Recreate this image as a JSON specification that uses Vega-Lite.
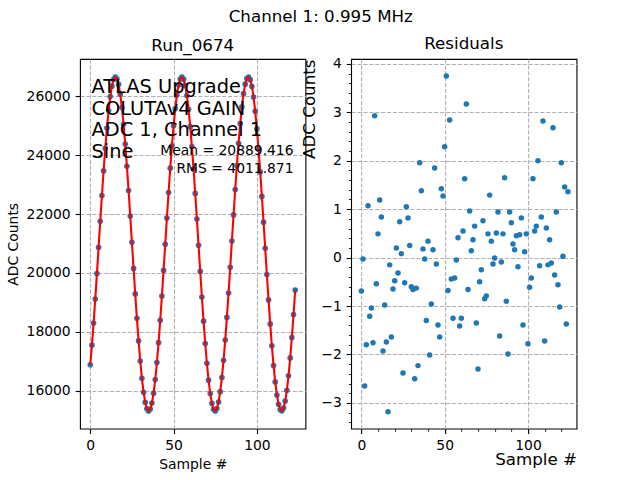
{
  "$schema": "https://vega.github.io/schema/vega-lite/v6.json",
  "padding": {"left": 5, "top": 8, "right": 5, "bottom": 5},
  "title": {"text": "Channel 1: 0.995 MHz", "anchor": "middle", "baseline": "alphabetic", "offset": -3.7, "dx": 29.5},
  "datasets": {
    "samples": [
      {"sample": 0, "adc": 16881, "fit": 16882}, {"sample": 1, "adc": 17548, "fit": 17548},
      {"sample": 2, "adc": 18297, "fit": 18300}, {"sample": 3, "adc": 19115, "fit": 19117},
      {"sample": 4, "adc": 19981, "fit": 19980}, {"sample": 5, "adc": 20868, "fit": 20869},
      {"sample": 6, "adc": 21759, "fit": 21760}, {"sample": 7, "adc": 22631, "fit": 22633},
      {"sample": 8, "adc": 23468, "fit": 23465}, {"sample": 9, "adc": 24233, "fit": 24234},
      {"sample": 10, "adc": 24923, "fit": 24923}, {"sample": 11, "adc": 25517, "fit": 25516},
      {"sample": 12, "adc": 25997, "fit": 25996}, {"sample": 13, "adc": 26349, "fit": 26351},
      {"sample": 14, "adc": 26573, "fit": 26574}, {"sample": 15, "adc": 26656, "fit": 26658},
      {"sample": 16, "adc": 26599, "fit": 26602}, {"sample": 17, "adc": 26407, "fit": 26407},
      {"sample": 18, "adc": 26075, "fit": 26077}, {"sample": 19, "adc": 25620, "fit": 25621},
      {"sample": 20, "adc": 25052, "fit": 25052}, {"sample": 21, "adc": 24379, "fit": 24379},
      {"sample": 22, "adc": 23623, "fit": 23623}, {"sample": 23, "adc": 22804, "fit": 22803},
      {"sample": 24, "adc": 21937, "fit": 21937}, {"sample": 25, "adc": 21045, "fit": 21047},
      {"sample": 26, "adc": 20156, "fit": 20157}, {"sample": 27, "adc": 19288, "fit": 19287},
      {"sample": 28, "adc": 18459, "fit": 18458}, {"sample": 29, "adc": 17692, "fit": 17692},
      {"sample": 30, "adc": 17007, "fit": 17008}, {"sample": 31, "adc": 16421, "fit": 16422},
      {"sample": 32, "adc": 15946, "fit": 15949}, {"sample": 33, "adc": 15601, "fit": 15602},
      {"sample": 34, "adc": 15385, "fit": 15387}, {"sample": 35, "adc": 15313, "fit": 15311},
      {"sample": 36, "adc": 15377, "fit": 15376}, {"sample": 37, "adc": 15579, "fit": 15579},
      {"sample": 38, "adc": 15917, "fit": 15917}, {"sample": 39, "adc": 16380, "fit": 16381},
      {"sample": 40, "adc": 16958, "fit": 16958}, {"sample": 41, "adc": 17632, "fit": 17634},
      {"sample": 42, "adc": 18393, "fit": 18394}, {"sample": 43, "adc": 19218, "fit": 19218},
      {"sample": 44, "adc": 20088, "fit": 20086}, {"sample": 45, "adc": 20976, "fit": 20976},
      {"sample": 46, "adc": 21866, "fit": 21867}, {"sample": 47, "adc": 22733, "fit": 22735},
      {"sample": 48, "adc": 23561, "fit": 23560}, {"sample": 49, "adc": 24322, "fit": 24321},
      {"sample": 50, "adc": 25002, "fit": 25000}, {"sample": 51, "adc": 25583, "fit": 25579},
      {"sample": 52, "adc": 26044, "fit": 26045}, {"sample": 53, "adc": 26388, "fit": 26385},
      {"sample": 54, "adc": 26591, "fit": 26591}, {"sample": 55, "adc": 26658, "fit": 26659},
      {"sample": 56, "adc": 26586, "fit": 26586}, {"sample": 57, "adc": 26374, "fit": 26374},
      {"sample": 58, "adc": 26029, "fit": 26029}, {"sample": 59, "adc": 25557, "fit": 25558},
      {"sample": 60, "adc": 24973, "fit": 24974}, {"sample": 61, "adc": 24294, "fit": 24293},
      {"sample": 62, "adc": 23530, "fit": 23528}, {"sample": 63, "adc": 22704, "fit": 22701},
      {"sample": 64, "adc": 21831, "fit": 21832}, {"sample": 65, "adc": 20941, "fit": 20940},
      {"sample": 66, "adc": 20052, "fit": 20052}, {"sample": 67, "adc": 19185, "fit": 19185},
      {"sample": 68, "adc": 18363, "fit": 18362}, {"sample": 69, "adc": 17604, "fit": 17605},
      {"sample": 70, "adc": 16931, "fit": 16933}, {"sample": 71, "adc": 16358, "fit": 16359},
      {"sample": 72, "adc": 15902, "fit": 15902}, {"sample": 73, "adc": 15570, "fit": 15569},
      {"sample": 74, "adc": 15370, "fit": 15371}, {"sample": 75, "adc": 15311, "fit": 15312},
      {"sample": 76, "adc": 15393, "fit": 15393}, {"sample": 77, "adc": 15614, "fit": 15613},
      {"sample": 78, "adc": 15966, "fit": 15966}, {"sample": 79, "adc": 16444, "fit": 16444},
      {"sample": 80, "adc": 17032, "fit": 17032}, {"sample": 81, "adc": 17722, "fit": 17721},
      {"sample": 82, "adc": 18491, "fit": 18490}, {"sample": 83, "adc": 19318, "fit": 19320},
      {"sample": 84, "adc": 20191, "fit": 20191}, {"sample": 85, "adc": 21083, "fit": 21083},
      {"sample": 86, "adc": 21973, "fit": 21971}, {"sample": 87, "adc": 22835, "fit": 22836},
      {"sample": 88, "adc": 23653, "fit": 23655}, {"sample": 89, "adc": 24409, "fit": 24408},
      {"sample": 90, "adc": 25076, "fit": 25075}, {"sample": 91, "adc": 25642, "fit": 25642},
      {"sample": 92, "adc": 26093, "fit": 26093}, {"sample": 93, "adc": 26417, "fit": 26417},
      {"sample": 94, "adc": 26607, "fit": 26607}, {"sample": 95, "adc": 26658, "fit": 26658},
      {"sample": 96, "adc": 26569, "fit": 26568}, {"sample": 97, "adc": 26339, "fit": 26340},
      {"sample": 98, "adc": 25979, "fit": 25979}, {"sample": 99, "adc": 25493, "fit": 25493},
      {"sample": 100, "adc": 24896, "fit": 24898}, {"sample": 101, "adc": 24204, "fit": 24205},
      {"sample": 102, "adc": 23433, "fit": 23433}, {"sample": 103, "adc": 22601, "fit": 22599},
      {"sample": 104, "adc": 21726, "fit": 21725}, {"sample": 105, "adc": 20836, "fit": 20835},
      {"sample": 106, "adc": 19948, "fit": 19946}, {"sample": 107, "adc": 19084, "fit": 19084},
      {"sample": 108, "adc": 18269, "fit": 18268}, {"sample": 109, "adc": 17523, "fit": 17520},
      {"sample": 110, "adc": 16856, "fit": 16858}, {"sample": 111, "adc": 16299, "fit": 16298},
      {"sample": 112, "adc": 15855, "fit": 15855}, {"sample": 113, "adc": 15538, "fit": 15538},
      {"sample": 114, "adc": 15356, "fit": 15356}, {"sample": 115, "adc": 15317, "fit": 15314},
      {"sample": 116, "adc": 15412, "fit": 15412}, {"sample": 117, "adc": 15649, "fit": 15648},
      {"sample": 118, "adc": 16016, "fit": 16017}, {"sample": 119, "adc": 16509, "fit": 16510},
      {"sample": 120, "adc": 17114, "fit": 17112}, {"sample": 121, "adc": 17809, "fit": 17809},
      {"sample": 122, "adc": 18587, "fit": 18586}, {"sample": 123, "adc": 19421, "fit": 19422}
    ],
    "residuals": [
      {"sample": 0, "residual": -0.69}, {"sample": 1, "residual": -0.03}, {"sample": 2, "residual": -2.65},
      {"sample": 3, "residual": -1.80}, {"sample": 4, "residual": 1.07}, {"sample": 5, "residual": -1.21},
      {"sample": 6, "residual": -1.04}, {"sample": 7, "residual": -1.76}, {"sample": 8, "residual": 2.93},
      {"sample": 9, "residual": -0.54}, {"sample": 10, "residual": 0.49}, {"sample": 11, "residual": 1.19},
      {"sample": 12, "residual": 0.84}, {"sample": 13, "residual": -1.93}, {"sample": 14, "residual": -0.98},
      {"sample": 15, "residual": -1.74}, {"sample": 16, "residual": -3.18}, {"sample": 17, "residual": -0.15},
      {"sample": 18, "residual": -1.64}, {"sample": 19, "residual": -0.65}, {"sample": 20, "residual": -0.48},
      {"sample": 21, "residual": 0.20}, {"sample": 22, "residual": -0.32}, {"sample": 23, "residual": 0.74},
      {"sample": 24, "residual": 0.08}, {"sample": 25, "residual": -2.38}, {"sample": 26, "residual": -0.52},
      {"sample": 27, "residual": 1.05}, {"sample": 28, "residual": 0.82}, {"sample": 29, "residual": 0.25},
      {"sample": 30, "residual": -0.60}, {"sample": 31, "residual": -0.66}, {"sample": 32, "residual": -2.50},
      {"sample": 33, "residual": -0.63}, {"sample": 34, "residual": -2.23}, {"sample": 35, "residual": 1.96},
      {"sample": 36, "residual": 1.38}, {"sample": 37, "residual": 0.18}, {"sample": 38, "residual": -0.03},
      {"sample": 39, "residual": -1.30}, {"sample": 40, "residual": 0.34}, {"sample": 41, "residual": -2.01},
      {"sample": 42, "residual": -0.96}, {"sample": 43, "residual": 0.16}, {"sample": 44, "residual": 1.85},
      {"sample": 45, "residual": -0.13}, {"sample": 46, "residual": -1.39}, {"sample": 47, "residual": -1.64},
      {"sample": 48, "residual": 1.42}, {"sample": 49, "residual": 1.27}, {"sample": 50, "residual": 2.29},
      {"sample": 51, "residual": 3.75}, {"sample": 52, "residual": -0.68}, {"sample": 53, "residual": 2.84},
      {"sample": 54, "residual": -0.44}, {"sample": 55, "residual": -1.25}, {"sample": 56, "residual": -0.42},
      {"sample": 57, "residual": -0.05}, {"sample": 58, "residual": 0.41}, {"sample": 59, "residual": -1.41},
      {"sample": 60, "residual": -1.25}, {"sample": 61, "residual": 0.55}, {"sample": 62, "residual": 1.63},
      {"sample": 63, "residual": 3.17}, {"sample": 64, "residual": -0.66}, {"sample": 65, "residual": 0.96},
      {"sample": 66, "residual": 0.14}, {"sample": 67, "residual": 0.37}, {"sample": 68, "residual": 0.65},
      {"sample": 69, "residual": -1.35}, {"sample": 70, "residual": -2.30}, {"sample": 71, "residual": -0.50},
      {"sample": 72, "residual": -0.25}, {"sample": 73, "residual": 0.76}, {"sample": 74, "residual": -0.85},
      {"sample": 75, "residual": -0.79}, {"sample": 76, "residual": 0.49}, {"sample": 77, "residual": 1.29},
      {"sample": 78, "residual": 0.34}, {"sample": 79, "residual": -0.13}, {"sample": 80, "residual": -0.01},
      {"sample": 81, "residual": 0.51}, {"sample": 82, "residual": 0.94}, {"sample": 83, "residual": -1.62},
      {"sample": 84, "residual": -0.09}, {"sample": 85, "residual": 0.49}, {"sample": 86, "residual": 1.65},
      {"sample": 87, "residual": -0.90}, {"sample": 88, "residual": -1.99}, {"sample": 89, "residual": 0.94},
      {"sample": 90, "residual": 0.72}, {"sample": 91, "residual": 0.28}, {"sample": 92, "residual": 0.16},
      {"sample": 93, "residual": 0.45}, {"sample": 94, "residual": -0.19}, {"sample": 95, "residual": 0.47},
      {"sample": 96, "residual": 0.82}, {"sample": 97, "residual": -1.39}, {"sample": 98, "residual": 0.12},
      {"sample": 99, "residual": 0.49}, {"sample": 100, "residual": -1.78}, {"sample": 101, "residual": -0.61},
      {"sample": 102, "residual": -0.42}, {"sample": 103, "residual": 1.63}, {"sample": 104, "residual": 0.55},
      {"sample": 105, "residual": 0.65}, {"sample": 106, "residual": 2.00}, {"sample": 107, "residual": -0.17},
      {"sample": 108, "residual": 0.84}, {"sample": 109, "residual": 2.82}, {"sample": 110, "residual": -1.72},
      {"sample": 111, "residual": 0.61}, {"sample": 112, "residual": -0.15}, {"sample": 113, "residual": 0.37},
      {"sample": 114, "residual": -0.11}, {"sample": 115, "residual": 2.68}, {"sample": 116, "residual": -0.36},
      {"sample": 117, "residual": 0.94}, {"sample": 118, "residual": -0.56}, {"sample": 119, "residual": -1.02},
      {"sample": 120, "residual": 1.96}, {"sample": 121, "residual": 0.03}, {"sample": 122, "residual": 1.46},
      {"sample": 123, "residual": -1.37}, {"sample": 124, "residual": 1.36}
    ],
    "notes": [{"label": ["ATLAS Upgrade", "COLUTAv4 GAIN", "ADC 1, Channel 1", "Sine"]}],
    "stats": [{"label": ["Mean = 20889.416", "RMS = 4011.871"]}]
  },
  "bounds": "flush",
  "spacing": 45.1,
  "hconcat": [
    {
      "width": 225.45,
      "height": 369.6,
      "title": {"text": "Run_0674", "frame": "group", "baseline": "alphabetic", "offset": -8.4},
      "layer": [
        {
          "data": {"name": "samples"},
          "mark": {"type": "point", "filled": true, "opacity": 1, "size": 32, "color": "#1f77b4", "strokeWidth": 0},
          "encoding": {
            "x": {"field": "sample", "type": "quantitative", "title": "Sample #",
                  "scale": {"domain": [-6.15, 129.15], "nice": false, "zero": false},
                  "axis": {"values": [0, 50, 100], "grid": true, "titlePadding": 5}},
            "y": {"field": "adc", "type": "quantitative", "title": "ADC Counts",
                  "scale": {"domain": [14712, 27271], "nice": false, "zero": false},
                  "axis": {"values": [16000, 18000, 20000, 22000, 24000, 26000], "format": "d", "grid": true, "titlePadding": 6}}
          }
        },
        {
          "data": {"name": "samples"},
          "mark": {"type": "line", "color": "#ff0000", "strokeWidth": 2.1},
          "encoding": {
            "x": {"field": "sample", "type": "quantitative", "title": "Sample #"},
            "y": {"field": "fit", "type": "quantitative", "title": "ADC Counts"}
          }
        },
        {
          "data": {"name": "notes"},
          "mark": {"type": "text", "align": "left", "baseline": "alphabetic", "fontSize": 19.4, "lineHeight": 21.7, "color": "black"},
          "encoding": {
            "x": {"datum": 0.75, "type": "quantitative"},
            "y": {"datum": 26112, "type": "quantitative"},
            "text": {"field": "label"}
          }
        },
        {
          "data": {"name": "stats"},
          "mark": {"type": "text", "align": "right", "baseline": "alphabetic", "fontSize": 13.9, "lineHeight": 17.7, "color": "black"},
          "encoding": {
            "x": {"datum": 122, "type": "quantitative"},
            "y": {"datum": 23995, "type": "quantitative"},
            "text": {"field": "label"}
          }
        }
      ]
    },
    {
      "width": 225.45,
      "height": 369.6,
      "title": {"text": "Residuals", "frame": "group", "baseline": "alphabetic", "offset": -8.4},
      "data": {"name": "residuals"},
      "layer": [
        {
          "mark": {"type": "point", "filled": true, "opacity": 1, "size": 30, "color": "#1f77b4", "strokeWidth": 0},
          "encoding": {
            "x": {"field": "sample", "type": "quantitative", "title": "Sample #",
                  "scale": {"domain": [-6.15, 129.15], "nice": false, "zero": false},
                  "axis": {"orient": "bottom", "values": [0, 50, 100], "grid": true, "titleAnchor": "end", "titleFontSize": 16.7, "titlePadding": -1}},
            "y": {"field": "residual", "type": "quantitative", "title": "ADC Counts",
                  "scale": {"domain": [-3.53, 4.1], "nice": false, "zero": false},
                  "axis": {"orient": "left", "values": [-3, -2, -1, 0, 1, 2, 3, 4], "format": "d", "grid": true, "titleAnchor": "end", "titleFontSize": 16.7, "titlePadding": 2}}
          }
        },
        {
          "mark": {"type": "point", "filled": true, "opacity": 0, "size": 30},
          "encoding": {
            "x": {"field": "sample", "type": "quantitative",
                  "axis": {"orient": "bottom", "values": [10, 20, 30, 40, 60, 70, 80, 90, 110, 120], "labels": false, "grid": false, "title": null, "tickSize": 2.8, "tickWidth": 0.8}},
            "y": {"field": "residual", "type": "quantitative",
                  "axis": {"orient": "left", "values": [-3.4, -3.2, -2.8, -2.6, -2.4, -2.2, -1.8, -1.6, -1.4, -1.2, -0.8, -0.6, -0.4, -0.2, 0.2, 0.4, 0.6, 0.8, 1.2, 1.4, 1.6, 1.8, 2.2, 2.4, 2.6, 2.8, 3.2, 3.4, 3.6, 3.8], "labels": false, "grid": false, "title": null, "tickSize": 2.8, "tickWidth": 0.8}}
          }
        }
      ],
      "resolve": {"axis": {"x": "independent", "y": "independent"}}
    }
  ],
  "config": {
    "font": "DejaVu Sans",
    "view": {"stroke": "black", "strokeWidth": 1.1},
    "title": {"font": "DejaVu Sans", "fontSize": 16.7, "fontWeight": "normal", "color": "black"},
    "axis": {
      "domain": false,
      "tickColor": "black", "tickWidth": 1.1, "tickSize": 4.9,
      "labelPadding": 4.9, "labelFontSize": 13.9, "labelColor": "black", "labelFont": "DejaVu Sans",
      "labelFlush": false, "labelOverlap": false,
      "titleFont": "DejaVu Sans", "titleFontSize": 13.9, "titleFontWeight": "normal", "titleColor": "black",
      "gridColor": "#b0b0b0", "gridDash": [4.1, 1.8], "gridWidth": 1.1
    },
    "text": {"font": "DejaVu Sans"}
  }
}
